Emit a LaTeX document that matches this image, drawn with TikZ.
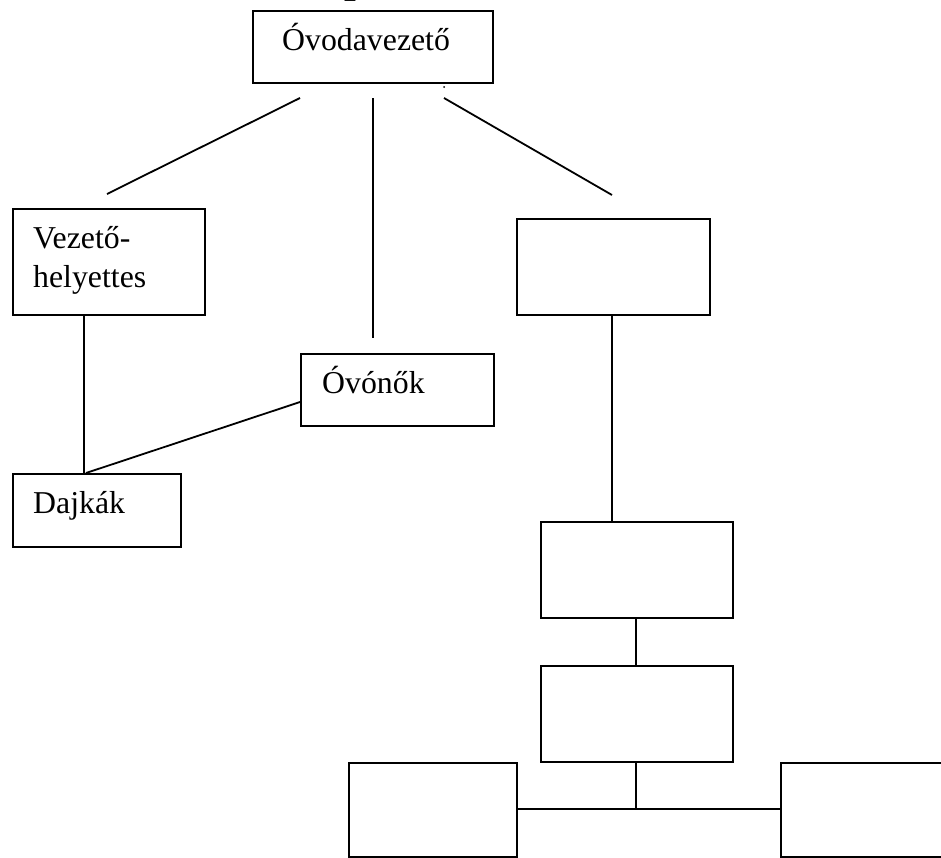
\documentclass[tikz,border=0pt]{standalone}
\usepackage{fontspec}
\setmainfont{Liberation Serif}
\begin{document}
\begin{tikzpicture}[x=1pt,y=-1pt,
  box/.style={draw,line width=1.8pt,rectangle,inner sep=0pt,anchor=north west},
  conn/.style={line width=1.8pt},
  lbl/.style={font=\fontsize{31.8}{38}\selectfont,anchor=base west,inner sep=0pt}]
\useasboundingbox (0,0) rectangle (941,857);
% title fragment (cut off at top)
\node[font=\bfseries\fontsize{42}{50}\selectfont,anchor=base west,inner sep=0pt] (title) at (344,-8) {p};
% boxes
\node[box,minimum width=240pt,minimum height=72pt] (ov) at (252,10) {};
\node[box,minimum width=192pt,minimum height=106pt] (vh) at (12,208) {};
\node[box,minimum width=193pt,minimum height=72pt] (on) at (300,353) {};
\node[box,minimum width=168pt,minimum height=73pt] (dk) at (12,473) {};
\node[box,minimum width=193pt,minimum height=96pt] (r1) at (516,218) {};
\node[box,minimum width=192pt,minimum height=96pt] (r2) at (540,521) {};
\node[box,minimum width=192pt,minimum height=96pt] (r3) at (540,665) {};
\node[box,minimum width=168pt,minimum height=94pt] (bl) at (348,762) {};
\node[box,minimum width=168pt,minimum height=94pt] (br) at (780,762) {};
% labels
\node[lbl] (tov) at (282,50) {Óvodavezető};
\node[lbl] (tvh1) at (33,248) {Vezető-};
\node[lbl] (tvh2) at (33,287) {helyettes};
\node[lbl] (ton) at (322,393) {Óvónők};
\node[lbl] (tdk) at (33,513) {Dajkák};
% connector end points
\coordinate (a1) at (300,98);  \coordinate (a2) at (107,194);
\coordinate (b1) at (373,98);  \coordinate (b2) at (373,338);
\coordinate (c1) at (444,98);  \coordinate (c2) at (612,195);
\coordinate (j) at (636,809);
% connectors
\draw[conn] (a1) -- (a2);
\draw[conn] (b1) -- (b2);
\draw[conn] (c1) -- (c2);
\fill (444,87) circle (1pt);
\draw[conn] (vh.south west -| 84,0) -- (dk.north west -| 84,0);
\draw[conn] (on.west |- 0,402) -- (dk.north west -| 86,0);
\draw[conn] (r1.south west -| 612,0) -- (r2.north west -| 612,0);
\draw[conn] (r2.south west -| 636,0) -- (r3.north west -| 636,0);
\draw[conn] (r3.south west -| 636,0) -- (j);
\draw[conn] (bl.east |- j) -- (br.west |- j);
\end{tikzpicture}
\end{document}
